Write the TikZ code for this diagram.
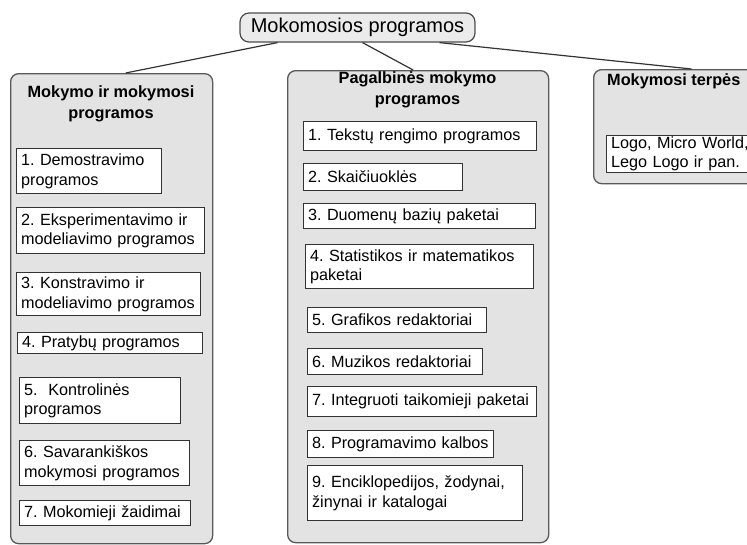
\documentclass[tikz,border=0pt]{standalone}
\usepackage{fontspec}
\setmainfont{Liberation Sans}
\usetikzlibrary{positioning}

\begin{document}
\begin{tikzpicture}[
    x=1pt, y=-1pt,
    rootbox/.style={rectangle, draw=black!70, fill=black!8, rounded corners=9pt, line width=1.2pt, minimum width=235pt, minimum height=29pt, inner sep=0pt, font=\fontsize{20}{24}\selectfont},
    groupbox/.style={rectangle, draw=black!65, fill=black!11, rounded corners=8pt, line width=1.3pt, anchor=north west, inner sep=0pt},
    titletext/.style={align=center, inner sep=0pt, font=\fontsize{16.3}{21.5}\selectfont\bfseries},
    itembox/.style={rectangle, draw=black!80, fill=white, line width=1.2pt, anchor=north west, align=left, inner xsep=2pt, inner ysep=1pt,
        font=\fontsize{16.2}{19.5}\selectfont,
        execute at begin node={\frenchspacing\hyphenpenalty=10000\relax\leftskip=2.5pt\relax}},
    link/.style={line width=1.2pt, draw=black!80}
]
\useasboundingbox (0,0) rectangle (747,544);
\clip (0,0) rectangle (747,544);

% Root
\node[rootbox] (root) at (357.5,27.5) {Mokomosios programos};

% Groups
\node[groupbox, minimum width=202pt, minimum height=470pt] (teach) at (10,73) {};
\node[groupbox, minimum width=261pt, minimum height=472pt] (aux) at (287,70) {};
\node[groupbox, minimum width=196pt, minimum height=114pt] (env) at (593,69) {};

\node[titletext] (teachtitle) at (111,104) {Mokymo ir mokymosi\\programos};
\node[titletext] (auxtitle) at (417.5,90) {Pagalbinės mokymo\\programos};
\node[titletext, anchor=west] (envtitle) at (607,81) {Mokymosi terpės};

% Left items
\node[itembox, text width=141pt, minimum height=45pt] (l1) at (16,148) {1. Demostravimo\\programos};
\node[itembox, text width=184pt, minimum height=46pt] (l2) at (16,207) {2. Eksperimentavimo~ir\\modeliavimo~programos};
\node[itembox, text width=180pt, minimum height=43pt] (l3) at (16,272) {3. Konstravimo ir\\modeliavimo~programos};
\node[itembox, text width=181pt, minimum height=21pt] (l4) at (17,332) {4. Pratybų programos};
\node[itembox, text width=157pt, minimum height=46pt] (l5) at (19,377) {5.\ \ Kontrolinės\\programos};
\node[itembox, text width=166pt, minimum height=45pt] (l6) at (19,440) {6. Savarankiškos\\mokymosi~programos};
\node[itembox, text width=167pt, minimum height=25pt] (l7) at (19,500) {7.~Mokomieji~žaidimai};

% Middle items
\node[itembox, text width=229pt, minimum height=29pt] (m1) at (303,121) {1.~Tekstų~rengimo~programos};
\node[itembox, text width=155pt, minimum height=27pt] (m2) at (303,163) {2. Skaičiuoklės};
\node[itembox, text width=228pt, minimum height=25pt] (m3) at (303,203) {3. Duomenų bazių paketai};
\node[itembox, text width=224pt, minimum height=44pt] (m4) at (305,244) {4.~Statistikos~ir~matematikos\\paketai};
\node[itembox, text width=175pt, minimum height=25pt] (m5) at (307,307) {5.~Grafikos~redaktoriai};
\node[itembox, text width=171pt, minimum height=26pt] (m6) at (307,348) {6.~Muzikos~redaktoriai};
\node[itembox, text width=225pt, minimum height=30pt] (m7) at (307,386) {7.~Integruoti~taikomieji~paketai};
\node[itembox, text width=182pt, minimum height=27pt] (m8) at (307,430) {8.~Programavimo~kalbos};
\node[itembox, text width=211pt, minimum height=55pt] (m9) at (307,465) {9.~Enciklopedijos,~žodynai,\\žinynai ir katalogai};

% Right item
\node[itembox, text width=166pt, minimum height=35pt] (r1) at (606,135) {Logo,~Micro~World,\\Lego Logo ir pan.};

% Edges
\draw[link] ([xshift=-80pt]root.south) -- ([xshift=14pt]teach.north);
\draw[link] ([xshift=5pt]root.south) -- ([xshift=-5pt]aux.north);
\draw[link] ([xshift=82pt]root.south) -- (env.north);

\end{tikzpicture}
\end{document}
